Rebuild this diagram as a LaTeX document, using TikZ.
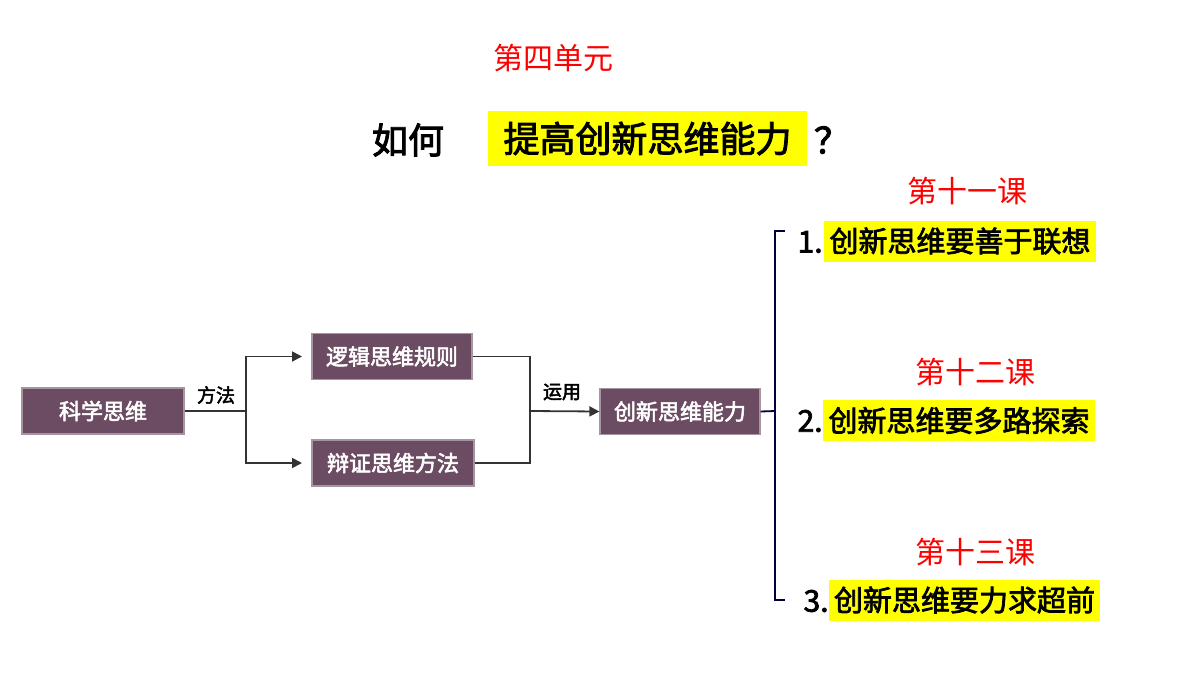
\documentclass[tikz,border=0pt]{standalone}
\usepackage{fontspec}
\setmainfont{Noto Sans CJK SC}
\newfontfamily\cjk{Noto Sans CJK SC}
\newfontfamily\cjkb[FakeBold=2.5]{Noto Sans CJK SC}
\usetikzlibrary{arrows.meta}
\definecolor{boxc}{HTML}{6B4C62}
\definecolor{hl}{HTML}{FFFF00}
\begin{document}
\begin{tikzpicture}[x=0.5pt,y=-0.5pt,
  box/.style={fill=boxc,draw=boxc!60!white,line width=0.6pt,text=white,font=\cjkb\fontsize{11}{12}\selectfont,inner sep=0,minimum height=23pt},
  red/.style={text=red,font=\cjk\fontsize{15}{16}\selectfont},
  ln/.style={draw=black!80,line width=0.9pt},
  arr/.style={ln,-{Triangle[length=5pt,width=5pt]}},
  hlt/.style={fill=hl,inner sep=0,font=\cjkb\fontsize{14.5}{16}\selectfont,minimum height=20.5pt},
  num/.style={font=\cjkb\fontsize{15}{16}\selectfont,inner sep=0},
  lab/.style={font=\cjkb\fontsize{9.5}{10}\selectfont,inner sep=0}]
\useasboundingbox (0,0) rectangle (1200,675);
\node[red] (u) at (553,58) {第四单元};
\node[font=\cjkb\fontsize{18}{20}\selectfont,inner sep=0] (q1) at (408,140) {如何};
\node[fill=hl,font=\cjkb\fontsize{18}{20}\selectfont,inner sep=0,minimum width=159.5pt,minimum height=27.5pt] (q2) at (647.5,138.5) {提高创新思维能力};
\node[font=\cjkb\fontsize{18}{20}\selectfont,inner sep=0] (q3) at (832,140) {？};
\node[box,minimum width=81pt] (a) at (103,411) {科学思维};
\node[box,minimum width=80pt] (b) at (392,356.5) {逻辑思维规则};
\node[box,minimum width=81pt] (c) at (393,463) {辩证思维方法};
\node[box,minimum width=80pt] (d) at (680,411.5) {创新思维能力};
\coordinate (s1) at (246,411);
\coordinate (s2) at (530,411);
\draw[ln] (a.east) -- (s1);
\draw[arr] (s1) |- (b.west -| 302,357);
\draw[arr] (s1) |- (c.west -| 302,463);
\draw[ln] (b.east) -| (s2);
\draw[ln] (c.east) -| (s2);
\draw[arr] (s2) -- (d.west);
\node[lab] (m1) at (216,395) {方法};
\node[lab] (m2) at (562,392) {运用};
\coordinate (k) at (775,411);
\draw[ln,draw=black!75!blue] (d.east) -- (k);
\draw[ln,draw=black!75!blue] (785,231) -- (775,231) -- (775,600) -- (785,600);
\node[red] (l1) at (967,191) {第十一课};
\node[red] (l2) at (975,372) {第十二课};
\node[red] (l3) at (975,552) {第十三课};
\node[hlt,minimum width=136pt] (i1) at (960,241) {创新思维要善于联想};
\node[num,anchor=east] (n1) at (823,242) {1.};
\node[hlt,minimum width=136pt] (i2) at (959,420.5) {创新思维要多路探索};
\node[num,anchor=east] (n2) at (823,421) {2.};
\node[hlt,minimum width=135.5pt] (i3) at (964.5,600) {创新思维要力求超前};
\node[num,anchor=east] (n3) at (829,601) {3.};
\end{tikzpicture}
\end{document}
